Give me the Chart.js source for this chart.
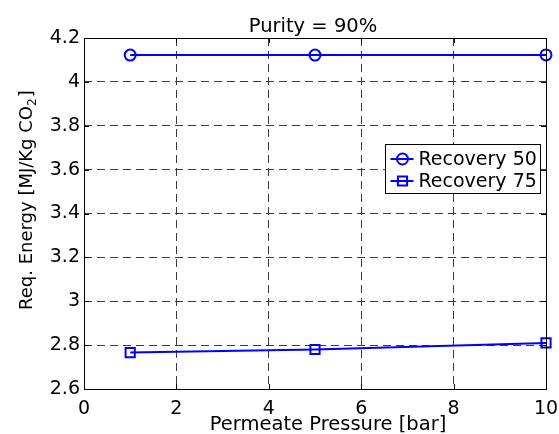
<!DOCTYPE html>
<html>
<head>
<meta charset="utf-8">
<script src="https://cdn.jsdelivr.net/npm/chart.js@4/dist/chart.umd.min.js"></script>
<style>
  html, body { margin: 0; padding: 0; background: #fff; }
  #wrap { width: 559px; height: 434px; }
</style>
</head>
<body>
<div id="wrap"><canvas id="energyChart" width="559" height="434"></canvas></div>
<script>
// permeate pressure [bar]
const pressures = [1, 5, 10];
const recovery50 = [4.122, 4.122, 4.123];
const recovery75 = [2.766, 2.780, 2.810];
const seriesNames = ['Recovery 50', 'Recovery 75'];

const titleText = 'Purity = 90%';
const xLabel = 'Permeate Pressure [bar]';
// y label is split so the 2 can be drawn as a real subscript
const yLabelParts = ['Req. Energy [MJ/Kg CO', '2', ']'];

const FONT = 'DejaVu Sans';
const BLUE = '#0000ff';

// full black box + small inward ticks on all four sides
const boxPlugin = {
    id: 'box',
    afterDraw(chart) {
        const { ctx, chartArea: a, scales } = chart;
        ctx.save();
        ctx.strokeStyle = '#000';
        ctx.lineWidth = 1;
        ctx.setLineDash([]);
        ctx.beginPath();
        scales.x.ticks.forEach((t) => {
            const px = Math.round(scales.x.getPixelForValue(t.value)) + 0.5;
            ctx.moveTo(px, a.bottom); ctx.lineTo(px, a.bottom - 5);
            ctx.moveTo(px, a.top); ctx.lineTo(px, a.top + 5);
        });
        scales.y.ticks.forEach((t) => {
            const py = Math.round(scales.y.getPixelForValue(t.value)) + 0.5;
            ctx.moveTo(a.left, py); ctx.lineTo(a.left + 5, py);
            ctx.moveTo(a.right, py); ctx.lineTo(a.right - 5, py);
        });
        ctx.stroke();
        ctx.strokeRect(Math.round(a.left) + 0.5, Math.round(a.top) + 0.5,
            Math.round(a.right - a.left), Math.round(a.bottom - a.top));
        ctx.restore();
    }
};

// titles placed matlab-style (centered on the axes, subscript in y label)
const labelsPlugin = {
    id: 'labels',
    afterDraw(chart) {
        const { ctx, chartArea: a } = chart;
        const cx = (a.left + a.right) / 2;
        ctx.save();
        ctx.fillStyle = '#000';
        ctx.textBaseline = 'alphabetic';

        ctx.font = '19.5px "' + FONT + '"';
        ctx.textAlign = 'center';
        ctx.fillText(titleText, cx - 2, 32);
        ctx.fillText(xLabel, cx + 13, 430);

        ctx.translate(32, 310);
        ctx.rotate(-Math.PI / 2);
        ctx.textAlign = 'left';
        ctx.font = '18px "' + FONT + '"';
        ctx.fillText(yLabelParts[0], 0, 0);
        let off = ctx.measureText(yLabelParts[0]).width;
        ctx.font = '12px "' + FONT + '"';
        ctx.fillText(yLabelParts[1], off, 4);
        off += ctx.measureText(yLabelParts[1]).width;
        ctx.font = '18px "' + FONT + '"';
        ctx.fillText(yLabelParts[2], off + 1, 0);
        ctx.restore();
    }
};

// legend box inside the plot, like matlab's
const legendPlugin = {
    id: 'boxLegend',
    afterDraw(chart) {
        const { ctx, chartArea: a } = chart;
        const w = 155, h = 49;
        const x0 = Math.round(a.right - 6 - w) + 0.5;
        const y0 = 144.5;
        ctx.save();
        ctx.fillStyle = '#fff';
        ctx.fillRect(x0, y0, w, h);
        ctx.strokeStyle = '#000';
        ctx.lineWidth = 1;
        ctx.strokeRect(x0, y0, w, h);
        ctx.font = '19px "' + FONT + '"';
        ctx.textBaseline = 'middle';
        chart.data.datasets.forEach((ds, i) => {
            const y = y0 + 14.5 + i * 22;
            ctx.strokeStyle = ds.borderColor;
            ctx.lineWidth = 2;
            ctx.beginPath();
            ctx.moveTo(x0 + 5, y);
            ctx.lineTo(x0 + 28, y);
            ctx.stroke();
            ctx.fillStyle = 'rgba(0,0,0,0)';
            Chart.helpers.drawPoint(ctx, {
                pointStyle: ds.pointStyle,
                radius: ds.pointRadius,
                rotation: 0,
                borderWidth: 2
            }, x0 + 17, y);
            ctx.fillStyle = '#000';
            ctx.fillText(ds.label, x0 + 33, y + 1);
        });
        ctx.restore();
    }
};

const gridStyle = {
    color: '#3a3a3a',
    lineWidth: 1,
    drawTicks: false
};

new Chart(document.getElementById('energyChart'), {
    type: 'line',
    data: {
        datasets: [
            {
                label: seriesNames[0],
                data: pressures.map((p, i) => ({ x: p, y: recovery50[i] })),
                borderColor: BLUE,
                backgroundColor: 'rgba(0,0,0,0)',
                borderWidth: 2,
                pointStyle: 'circle',
                pointRadius: 5.5,
                pointBorderWidth: 2,
                pointBorderColor: BLUE,
                pointBackgroundColor: 'rgba(0,0,0,0)',
                clip: false
            },
            {
                label: seriesNames[1],
                data: pressures.map((p, i) => ({ x: p, y: recovery75[i] })),
                borderColor: BLUE,
                backgroundColor: 'rgba(0,0,0,0)',
                borderWidth: 2,
                pointStyle: 'rect',
                pointRadius: 6.5,
                pointBorderWidth: 2,
                pointBorderColor: BLUE,
                pointBackgroundColor: 'rgba(0,0,0,0)',
                clip: false
            }
        ]
    },
    options: {
        responsive: false,
        animation: false,
        events: [],
        layout: { padding: { left: 0, right: 13, top: 38, bottom: 0 } },
        plugins: {
            legend: { display: false },
            tooltip: { enabled: false },
            title: { display: false }
        },
        scales: {
            x: {
                type: 'linear',
                min: 0,
                max: 10,
                afterFit: (s) => {
                    s.height = 45;
                    s.paddingLeft = 0;
                    s.paddingRight = 0;
                },
                ticks: {
                    stepSize: 2,
                    color: '#000',
                    padding: 9,
                    maxRotation: 0,
                    font: { family: FONT, size: 19 }
                },
                grid: gridStyle,
                border: { display: false, dash: [8, 5] }
            },
            y: {
                type: 'linear',
                min: 2.6,
                max: 4.2,
                afterFit: (s) => {
                    s.width = 84;
                    s.paddingTop = 0;
                    s.paddingBottom = 0;
                },
                ticks: {
                    stepSize: 0.2,
                    color: '#000',
                    padding: 4,
                    font: { family: FONT, size: 19 },
                    callback: (v) => String(Number(v.toFixed(2)))
                },
                grid: gridStyle,
                border: { display: false, dash: [8, 5] }
            }
        }
    },
    plugins: [boxPlugin, labelsPlugin, legendPlugin]
});
</script>
</body>
</html>
